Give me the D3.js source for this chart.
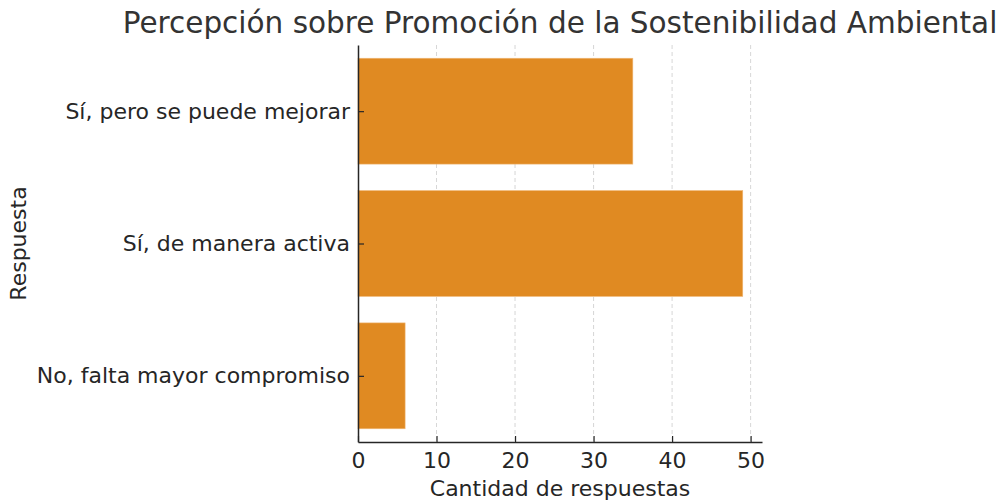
<!DOCTYPE html>
<html>
<head>
<meta charset="utf-8">
<script src="https://cdnjs.cloudflare.com/ajax/libs/d3/7.8.5/d3.min.js"></script>
<style>
  body { margin: 0; background: #fff; }
  svg text { font-family: "DejaVu Sans", sans-serif; fill: #262626; }
</style>
</head>
<body>
<svg id="main_svg_container" width="998" height="501"></svg>
<script>
// data (bottom to top, as in the picture)
var categories = ["No, falta mayor compromiso", "Sí, de manera activa", "Sí, pero se puede mejorar"];
var counts = [6, 49, 35];
var x_ticks = [0, 10, 20, 30, 40, 50];

var title_text = "Percepción sobre Promoción de la Sostenibilidad Ambiental";
var x_label = "Cantidad de respuestas";
var y_label = "Respuesta";

var plot_left = 358, plot_right = 762, plot_top = 45, plot_bottom = 442;
var bar_color = "#e08a22";
var label_size = 22;

var svg = d3.select("#main_svg_container");

var x = d3.scaleLinear()
    .domain([0, d3.max(counts) * 1.05])
    .range([plot_left, plot_right]);

// bar centres at integer positions, height 0.8
var y = d3.scaleLinear()
    .domain([-0.5, categories.length - 0.5])
    .range([plot_bottom, plot_top]);

// grid
svg.append("g")
    .selectAll("line")
    .data(x_ticks.filter(function(d) { return d > 0; }))
    .enter().append("line")
    .attr("x1", function(d) { return x(d); })
    .attr("x2", function(d) { return x(d); })
    .attr("y1", plot_top)
    .attr("y2", plot_bottom)
    .attr("stroke", "#cccccc")
    .attr("stroke-width", 0.8)
    .attr("stroke-dasharray", "4,3");

// bars
svg.append("g")
    .selectAll("rect")
    .data(counts)
    .enter().append("rect")
    .attr("x", x(0))
    .attr("y", function(d, i) { return y(i + 0.4); })
    .attr("width", function(d) { return x(d) - x(0); })
    .attr("height", function(d, i) { return y(i - 0.4) - y(i + 0.4); })
    .attr("fill", bar_color)
    .attr("stroke", "#f0b878")
    .attr("stroke-width", 0.6);

// x axis
var x_axis = svg.append("g")
    .attr("transform", "translate(0," + plot_bottom + ")")
    .call(d3.axisBottom(x).tickValues(x_ticks).tickSizeInner(-6).tickSizeOuter(0).tickPadding(10));
x_axis.select(".domain").attr("stroke", "#262626").attr("stroke-width", 1.5);
x_axis.selectAll(".tick line").attr("stroke", "#262626").attr("stroke-width", 1.2);
x_axis.selectAll(".tick text").attr("font-size", label_size).attr("fill", "#262626")
    .style("font-family", "DejaVu Sans");

// y axis
var y_axis = svg.append("g")
    .attr("transform", "translate(" + plot_left + ",0)")
    .call(d3.axisLeft(y).tickValues(d3.range(categories.length))
        .tickFormat(function(d) { return categories[d]; })
        .tickSizeInner(-6).tickSizeOuter(0).tickPadding(8));
y_axis.select(".domain").attr("stroke", "#262626").attr("stroke-width", 1.5);
y_axis.selectAll(".tick line").attr("stroke", "#262626").attr("stroke-width", 1.2);
y_axis.selectAll(".tick text").attr("font-size", label_size).attr("fill", "#262626")
    .style("font-family", "DejaVu Sans");

// labels
svg.append("text")
    .attr("x", (plot_left + plot_right) / 2)
    .attr("y", 496)
    .attr("text-anchor", "middle")
    .attr("font-size", label_size)
    .text(x_label);

svg.append("text")
    .attr("transform", "translate(26," + ((plot_top + plot_bottom) / 2) + ") rotate(-90)")
    .attr("text-anchor", "middle")
    .attr("font-size", label_size)
    .text(y_label);

svg.append("text")
    .attr("x", (plot_left + plot_right) / 2)
    .attr("y", 33)
    .attr("text-anchor", "middle")
    .attr("font-size", 29.5)
    .style("fill", "#333333")
    .text(title_text);
</script>
</body>
</html>
